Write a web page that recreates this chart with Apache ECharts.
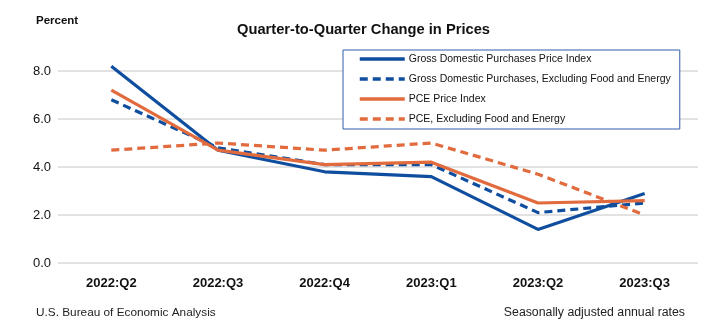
<!DOCTYPE html>
<html><head><meta charset="utf-8">
<script src="https://cdn.jsdelivr.net/npm/echarts@6/dist/echarts.min.js"></script>
<style>html,body{margin:0;padding:0;background:#fff}#c{width:702px;height:327px}</style>
</head><body><div id="c"></div>
<script>
const categories = ['2022:Q2','2022:Q3','2022:Q4','2023:Q1','2023:Q2','2023:Q3'];
const gdpPurch = [8.2, 4.7, 3.8, 3.6, 1.4, 2.9];
const gdpPurchCore = [6.8, 4.8, 4.1, 4.1, 2.1, 2.5];
const pce = [7.2, 4.7, 4.1, 4.2, 2.5, 2.6];
const pceCore = [4.7, 5.0, 4.7, 5.0, 3.7, 2.0];
const seriesNames = ['Gross Domestic Purchases Price Index','Gross Domestic Purchases, Excluding Food and Energy','PCE Price Index','PCE, Excluding Food and Energy'];
const yTicks = [0, 2, 4, 6, 8];

const BLUE = '#0F4D9E', ORANGE = '#E26B3E';
const FONT = 'Liberation Sans';
const chart = echarts.init(document.getElementById('c'), null, {renderer:'canvas'});
function mk(name, data, color, dashed){
  return {name, type:'line', data, symbol:'none', clip:false, z: dashed?3:4,
    lineStyle:{color, width:3.2, type: dashed?[8,5]:'solid', cap:'butt'},
    itemStyle:{color}};
}
chart.setOption({
  animation:false,
  textStyle:{fontFamily:FONT},
  title:[
    {text:'Quarter-to-Quarter Change in Prices', left:237, top:22, padding:0,
     textStyle:{fontFamily:FONT, fontSize:14.7, fontWeight:'bold', color:'#111'}},
    {text:'Percent', left:36, top:15, padding:0, textStyle:{fontFamily:FONT, fontSize:11.5, fontWeight:'bold', color:'#111'}},
    {text:'U.S. Bureau of Economic Analysis', left:36, top:307, padding:0, textStyle:{fontFamily:FONT, fontSize:11.8, fontWeight:'normal', color:'#222'}},
    {text:'Seasonally adjusted annual rates', right:17, top:307, padding:0, textStyle:{fontFamily:FONT, fontSize:12.3, fontWeight:'normal', color:'#222'}}
  ],
  legend:{
    orient:'vertical', left:343, top:50,
    padding:[3.5,9,4.5,15], itemGap:9, itemWidth:45, itemHeight:11,
    borderColor:'#2F5FA8', borderWidth:1, backgroundColor:'#fff',
    data:seriesNames,
    itemStyle:{opacity:0},
    lineStyle:{width:3.5},
    textStyle:{fontFamily:FONT, fontSize:10.5, color:'#111', padding:[0,0,0,-1]}
  },
  grid:{left:58, right:4, top:71, bottom:64, containLabel:false},
  xAxis:{type:'category', data:categories, boundaryGap:true,
    axisLine:{show:false}, axisTick:{show:false},
    axisLabel:{fontFamily:FONT, fontSize:13, fontWeight:'bold', color:'#111', margin:14}},
  yAxis:{type:'value', min:0, max:8, interval:2,
    axisLine:{show:false}, axisTick:{show:false},
    splitLine:{lineStyle:{color:'#D9D9D9', width:1.5}},
    axisLabel:{fontFamily:FONT, fontSize:13, color:'#111', margin:7,
      formatter:v => yTicks.includes(v) ? v.toFixed(1) : ''}},
  series:[
    mk(seriesNames[0], gdpPurch, BLUE, false),
    mk(seriesNames[1], gdpPurchCore, BLUE, true),
    mk(seriesNames[2], pce, ORANGE, false),
    mk(seriesNames[3], pceCore, ORANGE, true)
  ]
});
</script></body></html>
